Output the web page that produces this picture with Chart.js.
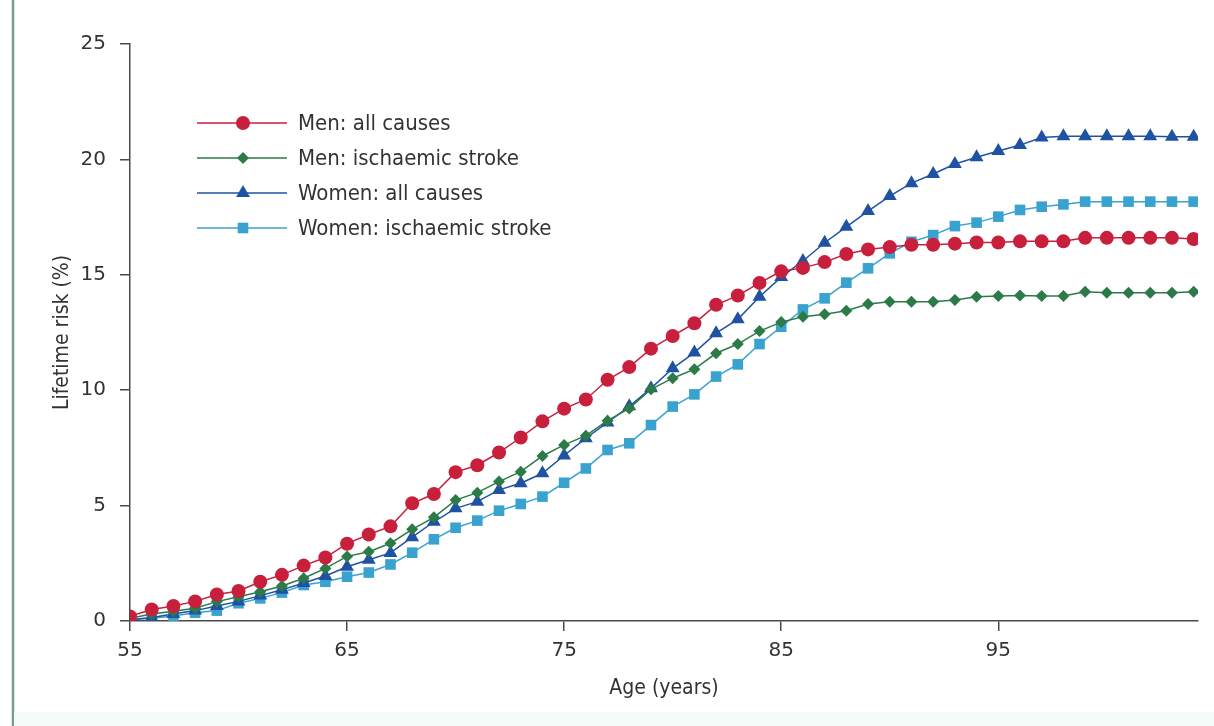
<!DOCTYPE html>
<html>
<head>
<meta charset="utf-8">
<script src="https://cdn.jsdelivr.net/npm/chart.js@4.4.1/dist/chart.umd.min.js"></script>
<style>
  html, body { margin: 0; padding: 0; background: #fff; }
  #wrap { width: 1214px; height: 726px; position: relative; }
</style>
</head>
<body>
<div id="wrap"><canvas id="myChart" width="1214" height="726"></canvas></div>
<script>
// ages 55..104
let ages = [55,56,57,58,59,60,61,62,63,64,65,66,67,68,69,70,71,72,73,74,
            75,76,77,78,79,80,81,82,83,84,85,86,87,88,89,90,91,92,93,94,
            95,96,97,98,99,100,101,102,103,104];

let menAll = [0.2,0.5,0.65,0.85,1.15,1.3,1.7,2.0,2.4,2.75,
              3.35,3.75,4.1,5.1,5.5,6.45,6.75,7.3,7.95,8.65,
              9.2,9.6,10.45,11.0,11.8,12.35,12.9,13.7,14.1,14.65,
              15.15,15.3,15.55,15.9,16.1,16.2,16.3,16.3,16.35,16.4,
              16.4,16.45,16.45,16.45,16.6,16.6,16.6,16.6,16.6,16.55];

let menStroke = [0.12,0.3,0.42,0.55,0.84,1.05,1.27,1.52,1.85,2.28,
                 2.8,3.0,3.37,3.97,4.49,5.24,5.56,6.04,6.47,7.15,
                 7.63,8.03,8.68,9.21,10.04,10.52,10.91,11.6,12.0,12.56,
                 12.95,13.18,13.29,13.44,13.73,13.83,13.83,13.83,13.91,14.05,
                 14.08,14.1,14.08,14.08,14.27,14.22,14.22,14.22,14.22,14.27];

let womenAll = [0.05,0.15,0.3,0.45,0.65,0.85,1.1,1.35,1.65,1.95,
                2.35,2.65,2.95,3.63,4.3,4.88,5.17,5.68,5.97,6.4,
                7.17,7.92,8.6,9.3,10.08,10.95,11.63,12.47,13.07,14.05,
                14.9,15.6,16.39,17.08,17.76,18.41,18.97,19.37,19.8,20.09,
                20.36,20.62,20.95,21.0,21.0,21.0,21.0,21.0,20.98,20.98];

let womenStroke = [0.05,0.12,0.22,0.36,0.45,0.77,0.98,1.23,1.56,1.7,
                   1.92,2.1,2.45,2.96,3.54,4.04,4.35,4.78,5.07,5.39,
                   5.99,6.61,7.41,7.7,8.49,9.29,9.82,10.59,11.12,12.0,
                   12.75,13.5,13.98,14.66,15.28,15.93,16.43,16.72,17.11,17.26,
                   17.52,17.81,17.95,18.05,18.17,18.17,18.17,18.17,18.17,18.17];

let xTicks = [55, 65, 75, 85, 95];
let yTicks = [0, 5, 10, 15, 20, 25];

const FONT = "'DejaVu Sans Condensed', 'Liberation Sans', sans-serif";
const NUMFONT = "'DejaVu Sans', sans-serif";
const TXT = '#333';
const AXIS = '#4a4a4a';

function series(label, values, color, style, radius) {
    return {
        label: label,
        data: ages.map((a, i) => ({x: a, y: values[i]})),
        borderColor: color,
        backgroundColor: color,
        borderWidth: 1.5,
        pointStyle: style,
        pointRadius: radius,
        pointBorderWidth: 0,
        pointBackgroundColor: color,
        fill: false,
        tension: 0
    };
}

// legend inside the plot + page frame lines
const extras = {
    id: 'extras',
    afterDraw(chart) {
        const ctx = chart.ctx;
        ctx.save();
        // left frame rule
        ctx.strokeStyle = '#7c9a8e';
        ctx.lineWidth = 2.5;
        ctx.beginPath();
        ctx.moveTo(13, 0);
        ctx.lineTo(13, 726);
        ctx.stroke();
        // faint bottom strip
        ctx.fillStyle = '#f4fbf8';
        ctx.fillRect(14, 712, 1200, 14);

        ctx.font = '22px ' + FONT;
        ctx.textBaseline = 'middle';
        ctx.textAlign = 'left';
        chart.data.datasets.forEach((ds, i) => {
            const y = 123 + i * 35;
            ctx.strokeStyle = ds.borderColor;
            ctx.lineWidth = 1.5;
            ctx.beginPath();
            ctx.moveTo(197, y);
            ctx.lineTo(287, y);
            ctx.stroke();
            ctx.fillStyle = ds.pointBackgroundColor;
            Chart.helpers.drawPoint(ctx, {
                pointStyle: ds.pointStyle,
                radius: ds.pointRadius,
                borderWidth: 0,
                rotation: 0
            }, 243, y);
            ctx.fillStyle = TXT;
            ctx.fillText(ds.label, 298, y + 1);
        });
        ctx.restore();
    }
};

new Chart("myChart", {
    type: "line",
    data: {
        datasets: [
            series('Men: all causes', menAll, '#c81f3d', 'circle', 7),
            series('Men: ischaemic stroke', menStroke, '#2c7a48', 'rectRot', 6),
            series('Women: all causes', womenAll, '#1f52a3', 'triangle', 8),
            series('Women: ischaemic stroke', womenStroke, '#3aa2cf', 'rect', 7.5)
        ]
    },
    options: {
        responsive: false,
        animation: false,
        layout: { padding: { left: 0, right: 16, top: 44, bottom: 0 } },
        plugins: {
            legend: { display: false },
            tooltip: { enabled: false }
        },
        scales: {
            x: {
                type: 'linear',
                min: 55,
                max: 104.2,
                afterBuildTicks: s => { s.ticks = xTicks.map(v => ({value: v})); },
                afterFit: s => { s.height = 105; },
                grid: { drawOnChartArea: false, drawTicks: true, tickLength: 10, color: AXIS, lineWidth: 1.5 },
                border: { display: true, color: AXIS, width: 1.5 },
                ticks: { color: TXT, font: { family: NUMFONT, size: 20 }, padding: 8, maxRotation: 0 },
                title: { display: true, text: 'Age (years)', color: TXT, font: { family: FONT, size: 21 }, padding: { bottom: 25 } }
            },
            y: {
                min: 0,
                max: 25,
                afterBuildTicks: s => { s.ticks = yTicks.map(v => ({value: v})); },
                afterFit: s => { s.width = 130; },
                grid: { drawOnChartArea: false, drawTicks: true, tickLength: 10, color: AXIS, lineWidth: 1.5 },
                border: { display: true, color: AXIS, width: 1.5 },
                ticks: { color: TXT, font: { family: NUMFONT, size: 20 }, padding: 14 },
                title: { display: true, text: 'Lifetime risk (%)', color: TXT, font: { family: FONT, size: 21 }, padding: { top: 50 } }
            }
        }
    },
    plugins: [extras]
});
</script>
</body>
</html>
